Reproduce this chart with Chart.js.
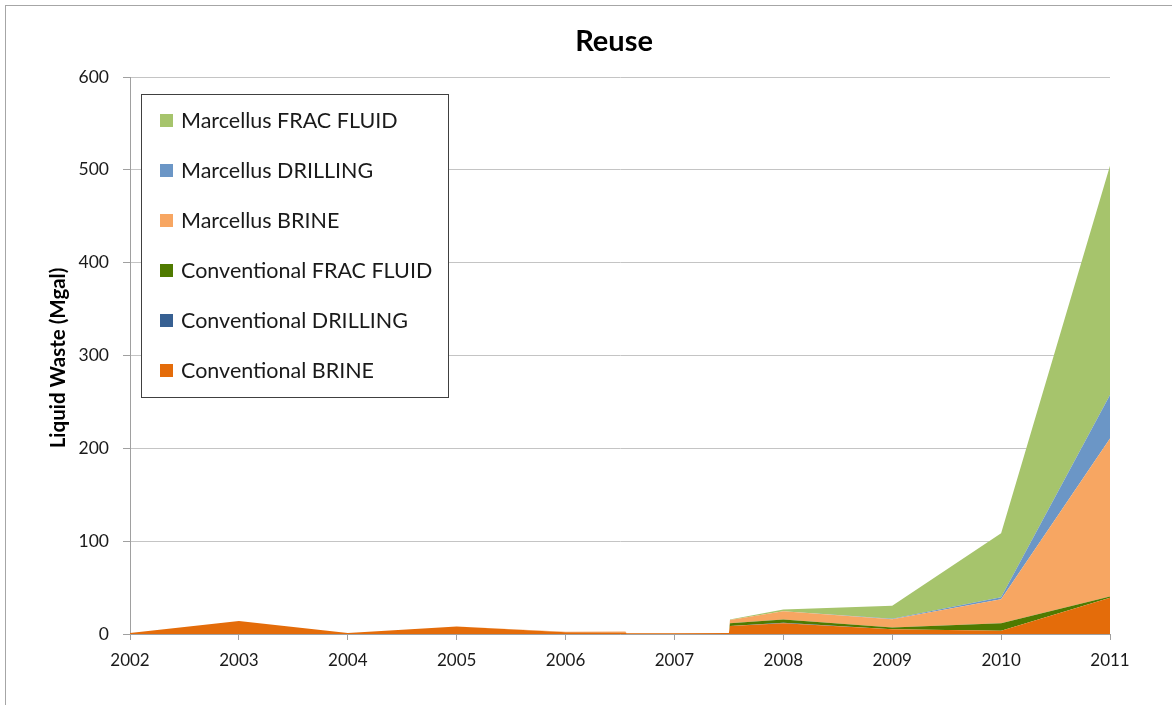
<!DOCTYPE html>
<html>
<head>
<meta charset="utf-8">
<title>Reuse</title>
<script src="https://cdn.jsdelivr.net/npm/chart.js@4.4.1/dist/chart.umd.min.js"></script>
<style>
  html, body { margin: 0; padding: 0; background: #ffffff; }
  #wrap { width: 1172px; height: 705px; position: relative; }
</style>
</head>
<body>
<div id="wrap"><canvas id="chart" width="1172" height="705"></canvas></div>
<script>
// Year positions of each vertex (the reporting gap around 2007 has its own edges)
const xPositions = [2002, 2003, 2004, 2005, 2006, 2006.55, 2006.56, 2007, 2007.5, 2007.51, 2008, 2009, 2010, 2011];

// Liquid waste reused, million gallons
const conventionalBrine    = [1, 14, 1, 8, 2, 1.5, 0.8, 0.8, 1, 8.5, 11.5, 5, 3.5, 39];
const conventionalDrilling = [0, 0, 0, 0, 0, 0, 0, 0, 0, 0, 0.5, 0, 0, 0];
const conventionalFrac     = [0, 0, 0, 0, 0, 0, 0, 0, 0, 3, 3.5, 2, 8, 1.5];
const marcellusBrine       = [0, 0, 0, 0, 0.3, 1.2, 0.4, 0.3, 0, 3.5, 9, 9, 26, 170];
const marcellusDrilling    = [0, 0, 0, 0, 0, 0, 0, 0, 0, 0, 0, 0.5, 2, 47];
const marcellusFrac        = [0, 0, 0, 0, 0, 0, 0, 0, 0, 0.5, 2, 14, 69, 247];

const seriesNames = [
  'Conventional BRINE', 'Conventional DRILLING', 'Conventional FRAC FLUID',
  'Marcellus BRINE', 'Marcellus DRILLING', 'Marcellus FRAC FLUID'
];
const seriesColors = ['#E46C0A', '#376092', '#4F7A00', '#F7A662', '#6B96C6', '#A6C46C'];
const seriesValues = [conventionalBrine, conventionalDrilling, conventionalFrac,
                      marcellusBrine, marcellusDrilling, marcellusFrac];

const yearLabels = ['2002', '2003', '2004', '2005', '2006', '2007', '2008', '2009', '2010', '2011'];
const valueTicks = [0, 100, 200, 300, 400, 500, 600];

const chartTitle = 'Reuse';
const yAxisTitle = 'Liquid Waste (Mgal)';

const FONT = 'Lato, "Open Sans", sans-serif';

const datasets = seriesValues.map((vals, i) => ({
  label: seriesNames[i],
  data: vals.map((v, j) => ({ x: xPositions[j], y: v })),
  backgroundColor: seriesColors[i],
  borderColor: seriesColors[i],
  borderWidth: 0,
  pointRadius: 0,
  tension: 0,
  fill: i === 0 ? 'origin' : '-1'
}));

// Frame, title, rotated axis title and the boxed legend inside the plot
const decorations = {
  id: 'decorations',
  beforeDraw(chart) {
    const ctx = chart.ctx;
    ctx.save();
    ctx.fillStyle = '#ffffff';
    ctx.fillRect(0, 0, chart.width, chart.height);
    ctx.restore();
  },
  afterDraw(chart) {
    const ctx = chart.ctx;
    const area = chart.chartArea;
    ctx.save();

    // outer frame
    ctx.strokeStyle = '#a6a6a6';
    ctx.lineWidth = 1;
    ctx.strokeRect(5.5, 5.5, chart.width + 20, chart.height + 20);

    // title
    ctx.fillStyle = '#000000';
    ctx.font = 'bold 29px ' + FONT;
    ctx.textAlign = 'center';
    ctx.textBaseline = 'middle';
    ctx.fillText(chartTitle, 614, 42);

    // y axis title
    ctx.save();
    ctx.translate(58, 358);
    ctx.rotate(-Math.PI / 2);
    ctx.font = 'bold 20.5px ' + FONT;
    ctx.fillText(yAxisTitle, 0, 0);
    ctx.restore();

    // legend box
    const bx = area.left + 11.5, by = 94.5, bw = 307, bh = 303;
    ctx.fillStyle = '#ffffff';
    ctx.fillRect(bx, by, bw, bh);
    ctx.strokeStyle = '#404040';
    ctx.strokeRect(bx, by, bw, bh);

    ctx.font = '21.5px ' + FONT;
    ctx.textAlign = 'left';
    ctx.textBaseline = 'middle';
    const order = [5, 4, 3, 2, 1, 0];
    order.forEach((idx, row) => {
      const cy = 120 + row * 50;
      ctx.fillStyle = seriesColors[idx];
      ctx.fillRect(160, cy - 6, 13, 13);
      ctx.fillStyle = '#1a1a1a';
      ctx.fillText(seriesNames[idx], 181, cy + 1);
    });
    ctx.restore();
  }
};

new Chart(document.getElementById('chart'), {
  type: 'line',
  data: { datasets },
  plugins: [decorations],
  options: {
    responsive: false,
    animation: false,
    events: [],
    layout: { padding: { top: 77, right: 62, bottom: 0, left: 0 } },
    plugins: {
      legend: { display: false },
      title: { display: false },
      tooltip: { enabled: false },
      filler: { propagate: false }
    },
    scales: {
      x: {
        type: 'linear',
        min: 2002,
        max: 2011,
        afterFit(scale) { scale.height = 71; },
        afterBuildTicks(scale) {
          scale.ticks = yearLabels.map((_, i) => ({ value: 2002 + i }));
        },
        ticks: {
          autoSkip: false,
          maxRotation: 0,
          padding: 10,
          color: '#1a1a1a',
          font: { family: FONT, size: 17 },
          callback: (v) => yearLabels[Math.round(v) - 2002]
        },
        grid: {
          drawOnChartArea: false,
          drawTicks: true,
          tickLength: 6,
          color: '#a0a0a0'
        },
        border: { color: '#a0a0a0', width: 1 }
      },
      y: {
        stacked: true,
        min: 0,
        max: 600,
        afterFit(scale) { scale.width = 130; },
        afterBuildTicks(scale) {
          scale.ticks = valueTicks.map(v => ({ value: v }));
        },
        ticks: {
          padding: 14,
          color: '#1a1a1a',
          font: { family: FONT, size: 17.5 },
          callback: (v) => String(v)
        },
        grid: {
          color: '#c4c4c4',
          tickLength: 7,
          tickColor: '#a0a0a0'
        },
        border: { color: '#a0a0a0', width: 1 }
      }
    }
  }
});
</script>
</body>
</html>
